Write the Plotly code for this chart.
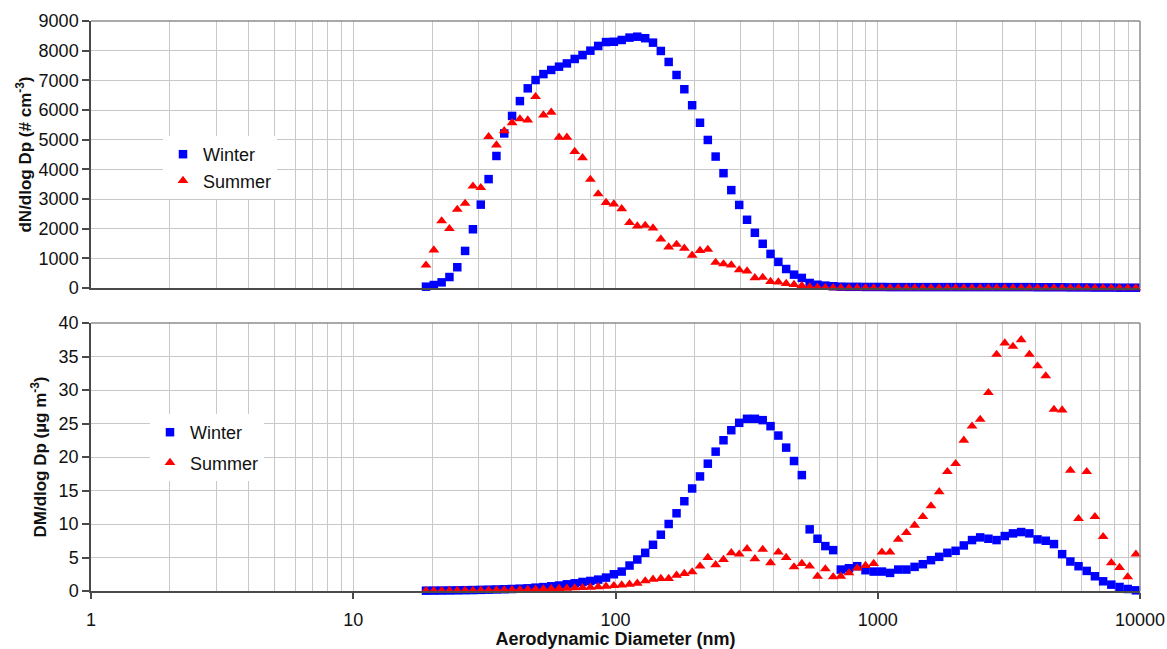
import plotly.graph_objects as go
from plotly.subplots import make_subplots

# Particle diameters (nm): SMPS channels then APS channels
diam_smps = [18.94, 20.29, 21.73, 23.27, 24.93, 26.70, 28.60, 30.64, 32.82, 35.15,
             37.65, 40.33, 43.20, 46.28, 49.57, 53.10, 56.87, 60.92, 65.26, 69.90,
             74.87, 80.20, 85.91, 92.02, 98.56, 105.6, 113.1, 121.1, 129.8, 139.0,
             148.9, 159.5, 170.9, 183.0, 196.0, 210.0, 224.9, 240.9, 258.1, 276.4,
             296.3, 317.4, 340.0, 364.2, 390.1, 417.8, 447.5, 479.4, 513.5, 550.0,
             589.3, 631.2, 676.1]
diam_aps = [723, 777, 835, 898, 965, 1037, 1114, 1197, 1286, 1382,
            1486, 1596, 1715, 1843, 1981, 2129, 2288, 2458, 2642, 2839,
            3051, 3278, 3523, 3786, 4068, 4371, 4698, 5048, 5425, 5829,
            6264, 6732, 7234, 7774, 8354, 8977, 9647]

# Number size distribution dN/dlogDp (# cm-3)
num_winter_smps = [45, 100, 190, 370, 700, 1250, 1980, 2810, 3670, 4450,
                   5210, 5800, 6300, 6730, 7010, 7210, 7350, 7460, 7570, 7720,
                   7850, 8000, 8160, 8290, 8300, 8360, 8440, 8470, 8420, 8270,
                   7990, 7620, 7180, 6700, 6160, 5570, 4990, 4430, 3870, 3300,
                   2800, 2300, 1860, 1490, 1150, 880, 640, 450, 340, 170,
                   110, 80, 60]
num_winter_aps = [45, 40, 40, 35, 35, 35, 30, 30, 30, 30,
                  30, 30, 30, 30, 30, 30, 30, 30, 30, 30,
                  30, 30, 30, 30, 25, 25, 25, 25, 20, 20,
                  20, 15, 15, 15, 10, 10, 10]
num_summer_smps = [770, 1280, 2260, 2000, 2650, 2850, 3430, 3380, 5100, 4820,
                   5300, 5570, 5700, 5660, 6450, 5830, 5920, 5080, 5080, 4600,
                   4390, 3660, 3170, 2880, 2830, 2670, 2200, 2090, 2110, 2020,
                   1650, 1380, 1470, 1340, 1100, 1260, 1300, 860, 810, 775,
                   610, 570, 345, 355, 215, 200, 150, 115, 80, 35,
                   20, 10, 5]
num_summer_aps = [4, 3, 3, 3, 3, 3, 3, 3, 3, 3,
                  3, 3, 3, 3, 3, 3, 3, 3, 3, 3,
                  3, 3, 3, 3, 3, 3, 3, 3, 3, 3,
                  2, 2, 2, 2, 2, 2, 2]

# Mass size distribution dM/dlogDp (ug m-3)
mass_winter_smps = [0.05, 0.06, 0.07, 0.08, 0.1, 0.12, 0.14, 0.17, 0.2, 0.23,
                    0.26, 0.3, 0.35, 0.4, 0.5, 0.58, 0.7, 0.82, 1.0, 1.15,
                    1.35, 1.5, 1.7, 2.0, 2.5, 2.9, 3.8, 4.7, 5.7, 6.9,
                    8.4, 10.0, 11.6, 13.4, 15.3, 17.1, 19.0, 20.8, 22.5, 24.0,
                    25.1, 25.7, 25.7, 25.5, 24.6, 23.2, 21.4, 19.4, 17.3, 9.2,
                    7.8, 6.7, 6.1]
mass_winter_aps = [3.2, 3.4, 3.7, 3.1, 2.9, 2.9, 2.7, 3.2, 3.2, 3.6,
                   4.0, 4.6, 5.1, 5.7, 6.0, 6.8, 7.6, 8.0, 7.8, 7.6,
                   8.2, 8.6, 8.8, 8.6, 7.7, 7.5, 7.0, 5.5, 4.4, 3.7,
                   3.0, 2.2, 1.45, 0.95, 0.6, 0.3, 0.1]
mass_summer_smps = [0.05, 0.05, 0.05, 0.06, 0.07, 0.08, 0.09, 0.1, 0.12, 0.14,
                    0.16, 0.18, 0.2, 0.23, 0.26, 0.3, 0.33, 0.37, 0.41, 0.45,
                    0.5, 0.55, 0.62, 0.7, 0.8, 0.88, 1.0, 1.15, 1.5, 1.75,
                    1.85, 1.85, 2.35, 2.6, 2.85, 3.7, 5.0, 3.9, 4.7, 5.7,
                    5.5, 6.3, 4.8, 6.2, 4.2, 5.8, 5.0, 3.6, 4.1, 3.7,
                    2.2, 3.3, 2.1]
mass_summer_aps = [2.2, 2.7, 3.4, 3.8, 4.1, 5.8, 5.8, 7.7, 8.7, 9.8,
                   11.1, 12.7, 14.8, 17.8, 19.0, 22.5, 24.6, 25.6, 29.6, 35.3,
                   37.0, 36.5, 37.5, 35.3, 33.6, 32.1, 27.1, 27.0, 18.0, 10.8,
                   17.8, 11.1, 8.1, 4.2, 3.5, 2.1, 5.5]

x_tick_vals = [1, 10, 100, 1000, 10000]
x_tick_text = ["1", "10", "100", "1000", "10000"]
series_names = ["Winter", "Summer"]

diam = diam_smps + diam_aps

FONT = "Liberation Sans, Arial, sans-serif"
BLUE = "#0000FF"
RED = "#FF0000"
GRID = "#c8c8c8"
AXIS = "#4a4a4a"
FRAME = "#8c8c8c"

fig = make_subplots(rows=2, cols=1, shared_xaxes=False, vertical_spacing=0.0)

def add_pair(row, win, sum_, legend, group_prefix):
    fig.add_trace(go.Scatter(
        x=diam, y=win, mode="markers", name=series_names[0],
        marker=dict(symbol="square", size=8.5, color=BLUE, line=dict(width=0)),
        cliponaxis=False, legend=legend, legendgroup=group_prefix + "w"),
        row=row, col=1)
    fig.add_trace(go.Scatter(
        x=diam, y=sum_, mode="markers", name=series_names[1],
        marker=dict(symbol="triangle-up", size=9.5, color=RED, line=dict(width=0)),
        cliponaxis=False, legend=legend, legendgroup=group_prefix + "s"),
        row=row, col=1)

add_pair(1, num_winter_smps + num_winter_aps, num_summer_smps + num_summer_aps, "legend", "t")
add_pair(2, mass_winter_smps + mass_winter_aps, mass_summer_smps + mass_summer_aps, "legend2", "b")

H_TOT = 570.0
top_dom = [1 - 267 / H_TOT, 1]
bot_dom = [0, 268 / H_TOT]

common_x = dict(
    type="log", range=[0, 4], showgrid=True, gridcolor=GRID, gridwidth=1,
    tickvals=x_tick_vals, ticktext=x_tick_text, automargin=False,
    minor=dict(dtick="D1", showgrid=True, gridcolor=GRID, gridwidth=1, ticks=""),
    showline=True, linecolor=AXIS, linewidth=1.5, zeroline=False,
    tickfont=dict(family=FONT, size=18, color="#111"),
)

fig.update_xaxes(**common_x)
fig.update_xaxes(row=1, col=1, showticklabels=False, ticks="")
fig.update_xaxes(row=2, col=1, ticks="outside", ticklen=6, tickwidth=1.5, tickcolor=AXIS,
                 ticklabelstandoff=6,
                 title=dict(text="<b>Aerodynamic Diameter (nm)</b>", standoff=8,
                            font=dict(family=FONT, size=18, color="#111")))

common_y = dict(
    showgrid=True, gridcolor=GRID, gridwidth=1, zeroline=False, automargin=False,
    showline=True, linecolor=AXIS, linewidth=1.5,
    ticks="outside", ticklen=7, tickwidth=1.5, tickcolor=AXIS,
    tickfont=dict(family=FONT, size=18, color="#111"), tickformat="d",
)
fig.update_yaxes(**common_y)
fig.update_yaxes(row=1, col=1, range=[0, 9000], dtick=1000, domain=top_dom,
                 title=dict(text="<b>dN/dlog Dp (# cm<sup>-3</sup>)</b>", standoff=3,
                            font=dict(family=FONT, size=17, color="#111")))
fig.update_yaxes(row=2, col=1, range=[0, 40], dtick=5, domain=bot_dom,
                 title=dict(text="<b>DM/dlog Dp (µg m<sup>-3</sup>)</b>", standoff=8,
                            font=dict(family=FONT, size=17, color="#111")))

# top/right frame edges
for xr, yr in (("x domain", "y domain"), ("x2 domain", "y2 domain")):
    fig.add_shape(type="line", xref=xr, yref=yr, x0=0, x1=1, y0=1, y1=1,
                  line=dict(color=FRAME, width=1.5), layer="above")
    fig.add_shape(type="line", xref=xr, yref=yr, x0=1, x1=1, y0=0, y1=1,
                  line=dict(color=FRAME, width=1.5), layer="above")

leg_font = dict(family=FONT, size=18, color="#111")
fig.update_layout(
    width=1167, height=649,
    margin=dict(l=91, r=27, t=21, b=58, autoexpand=False),
    paper_bgcolor="white", plot_bgcolor="white",
    font=dict(family=FONT, size=18, color="#111"),
    legend=dict(x=(163 - 91) / 1049, y=(591 - 136) / H_TOT, xanchor="left", yanchor="top",
                bgcolor="white", borderwidth=0, font=leg_font, itemwidth=30,
                traceorder="normal", tracegroupgap=0),
    legend2=dict(x=(150 - 91) / 1049, y=(591 - 414) / H_TOT, xanchor="left", yanchor="top",
                 bgcolor="white", borderwidth=0, font=leg_font, itemwidth=30,
                 traceorder="grouped", tracegroupgap=4),
    showlegend=True,
)

fig.write_html("out.html")
